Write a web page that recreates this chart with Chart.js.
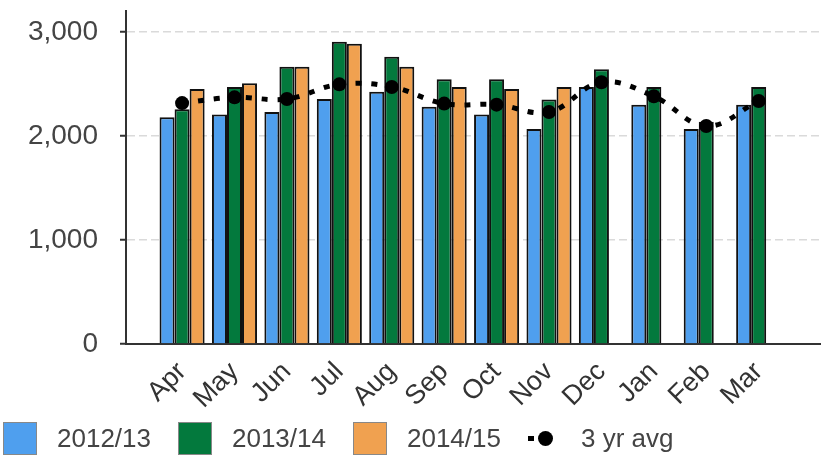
<!DOCTYPE html>
<html>
<head>
<meta charset="utf-8">
<script src="https://cdn.jsdelivr.net/npm/chart.js@4/dist/chart.umd.min.js"></script>
<style>
  body { margin: 0; background: #fff; }
  #wrap { position: relative; width: 827px; height: 462px; }
  #legend { position: absolute; left: 3px; top: 422px; display: flex; align-items: center;
    font-family: "Liberation Sans", Arial, sans-serif; font-size: 26px; color: #444; }
  #legend .box { width: 32px; height: 31px; border: 1px solid #888; margin-right: 20px; }
  #legend .txt { margin-right: 27px; line-height: 33px; }
  #legend .mark { position: relative; width: 34px; height: 33px; margin-right: 19px; }
</style>
</head>
<body>
<div id="wrap">
  <canvas id="first_chart"></canvas>
  <div id="legend"></div>
</div>
<script>
const months = ['Apr', 'May', 'Jun', 'Jul', 'Aug', 'Sep', 'Oct', 'Nov', 'Dec', 'Jan', 'Feb', 'Mar'];
const y2012 = [2180, 2205, 2230, 2355, 2425, 2280, 2205, 2065, 2470, 2300, 2065, 2300];
const y2013 = [2255, 2470, 2665, 2905, 2760, 2545, 2545, 2350, 2640, 2470, 2135, 2470];
const y2014 = [2450, 2505, 2665, 2885, 2665, 2470, 2450, 2470, null, null, null, null];
const avg3 = [2315, 2370, 2355, 2495, 2470, 2310, 2300, 2230, 2515, 2380, 2095, 2335];
const yTicks = [0, 1000, 2000, 3000];

const pts = (arr) => arr.map((v, i) => ({ x: i, y: v }));
const font = { family: '"Liberation Sans", Arial, sans-serif' };

const ctx1 = document.getElementById('first_chart');

const myChart1 = new Chart(ctx1, {
    type: 'bar',
    data: {
        datasets: [{
            label: '2012/13',
            data: pts(y2012),
            backgroundColor: '#4f9fee',
            borderColor: '#111',
            borderWidth: 2,
            order: 1
        }, {
            label: '2013/14',
            data: pts(y2013),
            backgroundColor: '#03793d',
            borderColor: '#111',
            borderWidth: 2,
            order: 1
        }, {
            label: '2014/15',
            data: pts(y2014),
            backgroundColor: '#f0a150',
            borderColor: '#111',
            borderWidth: 2,
            order: 1
        }, {
            type: 'line',
            label: '3 yr avg',
            data: pts(avg3),
            borderColor: '#000',
            backgroundColor: '#000',
            borderWidth: 5,
            borderDash: [6, 10],
            pointRadius: 7,
            pointBorderWidth: 0,
            tension: 0.4,
            fill: false,
            order: 0
        }]
    },
    options: {
        responsive: true,
        maintainAspectRatio: false,
        animation: false,
        categoryPercentage: 0.86,
        barPercentage: 1,
        layout: { padding: { left: 0, right: 6, top: 11, bottom: 48 } },
        plugins: { legend: { display: false }, tooltip: { enabled: false } },
        scales: {
            x: {
                type: 'linear',
                offset: false,
                min: -1.07,
                max: 12.17,
                afterFit: (s) => { s.height = 70; s.paddingLeft = 0; s.paddingRight = 0; },
                grid: { display: false, drawTicks: false, offset: false },
                border: { color: '#333', width: 2 },
                ticks: {
                    stepSize: 1,
                    includeBounds: false,
                    autoSkip: false,
                    minRotation: 45,
                    maxRotation: 45,
                    padding: 12,
                    color: '#333',
                    font: { ...font, size: 27 },
                    callback: (v) => months[v] ?? ''
                }
            },
            y: {
                min: 0,
                max: 3200,
                afterFit: (s) => { s.width = 126; s.paddingTop = 0; s.paddingBottom = 0; },
                afterBuildTicks: (s) => { s.ticks = yTicks.map(v => ({ value: v })); },
                grid: { color: '#dadada', lineWidth: 1.5, tickColor: '#333', tickLength: 6, tickWidth: 2 },
                border: { color: '#333', width: 2, dash: [8, 4] },
                ticks: {
                    padding: 22,
                    color: '#444',
                    font: { ...font, size: 28 },
                    callback: (v) => v.toLocaleString('en-US')
                }
            }
        }
    }
});

// legend built from the datasets
const legend = document.getElementById('legend');
myChart1.data.datasets.forEach((ds) => {
    let mark;
    if (ds.type === 'line') {
        mark = document.createElement('div');
        mark.className = 'mark';
        mark.innerHTML = '<span style="position:absolute;left:0;top:14px;width:6px;height:5px;background:#000"></span>' +
            '<span style="position:absolute;left:10px;top:9px;width:15px;height:15px;border-radius:50%;background:#000"></span>';
    } else {
        mark = document.createElement('div');
        mark.className = 'box';
        mark.style.background = ds.backgroundColor;
    }
    const txt = document.createElement('span');
    txt.className = 'txt';
    txt.textContent = ds.label;
    legend.appendChild(mark);
    legend.appendChild(txt);
});
</script>
</body>
</html>
